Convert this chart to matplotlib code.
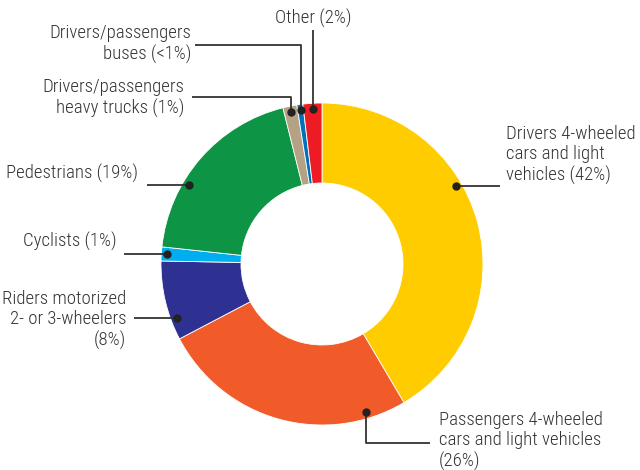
import numpy as np
import matplotlib
matplotlib.use("Agg")
import matplotlib.pyplot as plt

plt.rcParams['font.family'] = ['Roboto Condensed', 'DejaVu Sans']

# road traffic deaths by road user type (%), slice sizes as drawn
categories = ["Drivers 4-wheeled\ncars and light\nvehicles (42%)",
              "Passengers 4-wheeled\ncars and light vehicles\n(26%)",
              "Riders motorized\n2- or 3-wheelers\n(8%)",
              "Cyclists (1%)",
              "Pedestrians (19%)",
              "Drivers/passengers\nheavy trucks (1%)",
              "Drivers/passengers\nbuses (<1%)",
              "Other (2%)"]
shares = [41.5, 25.8, 8.0, 1.4, 19.4, 1.4, 0.6, 1.9]
colors = ["#FFCC00", "#F15A29", "#2E3192", "#00AEEF",
          "#0D9444", "#B5A183", "#0072BC", "#ED1C24"]

W, H = 640, 470
cx, cy, R = 322, 264, 161

fig = plt.figure(figsize=(6.4, 4.7), dpi=100)
ax = fig.add_axes([0, 0, 1, 1])

wedges, _ = ax.pie(shares, colors=colors, startangle=90, counterclock=False,
                   center=(cx, H - cy), radius=R,
                   wedgeprops=dict(width=80, edgecolor='white', linewidth=0.6))
ax.set_xlim(0, W)
ax.set_ylim(0, H)
ax.set_aspect('equal')
ax.axis('off')

# (fraction along wedge for the dot, text x, text y, ha, elbow points) in pixels
layout = [
    (0.40, 506, 155, 'left', [(500, None)]),
    (0.15, 439, 441, 'left', [(None, 443), (430, 443)]),
    (0.26, 126, 320, 'right', [(134, None)]),
    (0.53, 117, 241, 'right', [(124, None)]),
    (0.35, 138, 173, 'right', [(147, None)]),
    (0.50, 184, 98, 'right', [(None, 97), (192, 97)]),
    (0.50, 191, 44, 'right', [(None, 45), (195, 45)]),
    (0.50, 313, 18, 'center', [(None, 30)]),
]

for w, lab, (fr, tx, ty, ha, elbows) in zip(wedges, categories, layout):
    # clockwise pie: the wedge starts at theta2
    ang = np.deg2rad(w.theta2 - fr * (w.theta2 - w.theta1))
    dx = cx + 155 * np.cos(ang)
    dy = (H - cy) + 155 * np.sin(ang)
    xs, ys = [dx], [dy]
    for ex, ey in elbows:
        xs.append(xs[-1] if ex is None else ex)
        ys.append(ys[-1] if ey is None else H - ey)
    ax.plot(xs, ys, color='#333333', lw=1.3, solid_capstyle='butt')
    ax.plot(dx, dy, 'o', color='#222222', ms=5)
    ax.text(tx, H - ty, lab, ha=ha, va='center', fontsize=13.5, color='#333333',
            fontweight='light', multialignment=ha, linespacing=1.2)

fig.savefig("out.png", dpi=100)
